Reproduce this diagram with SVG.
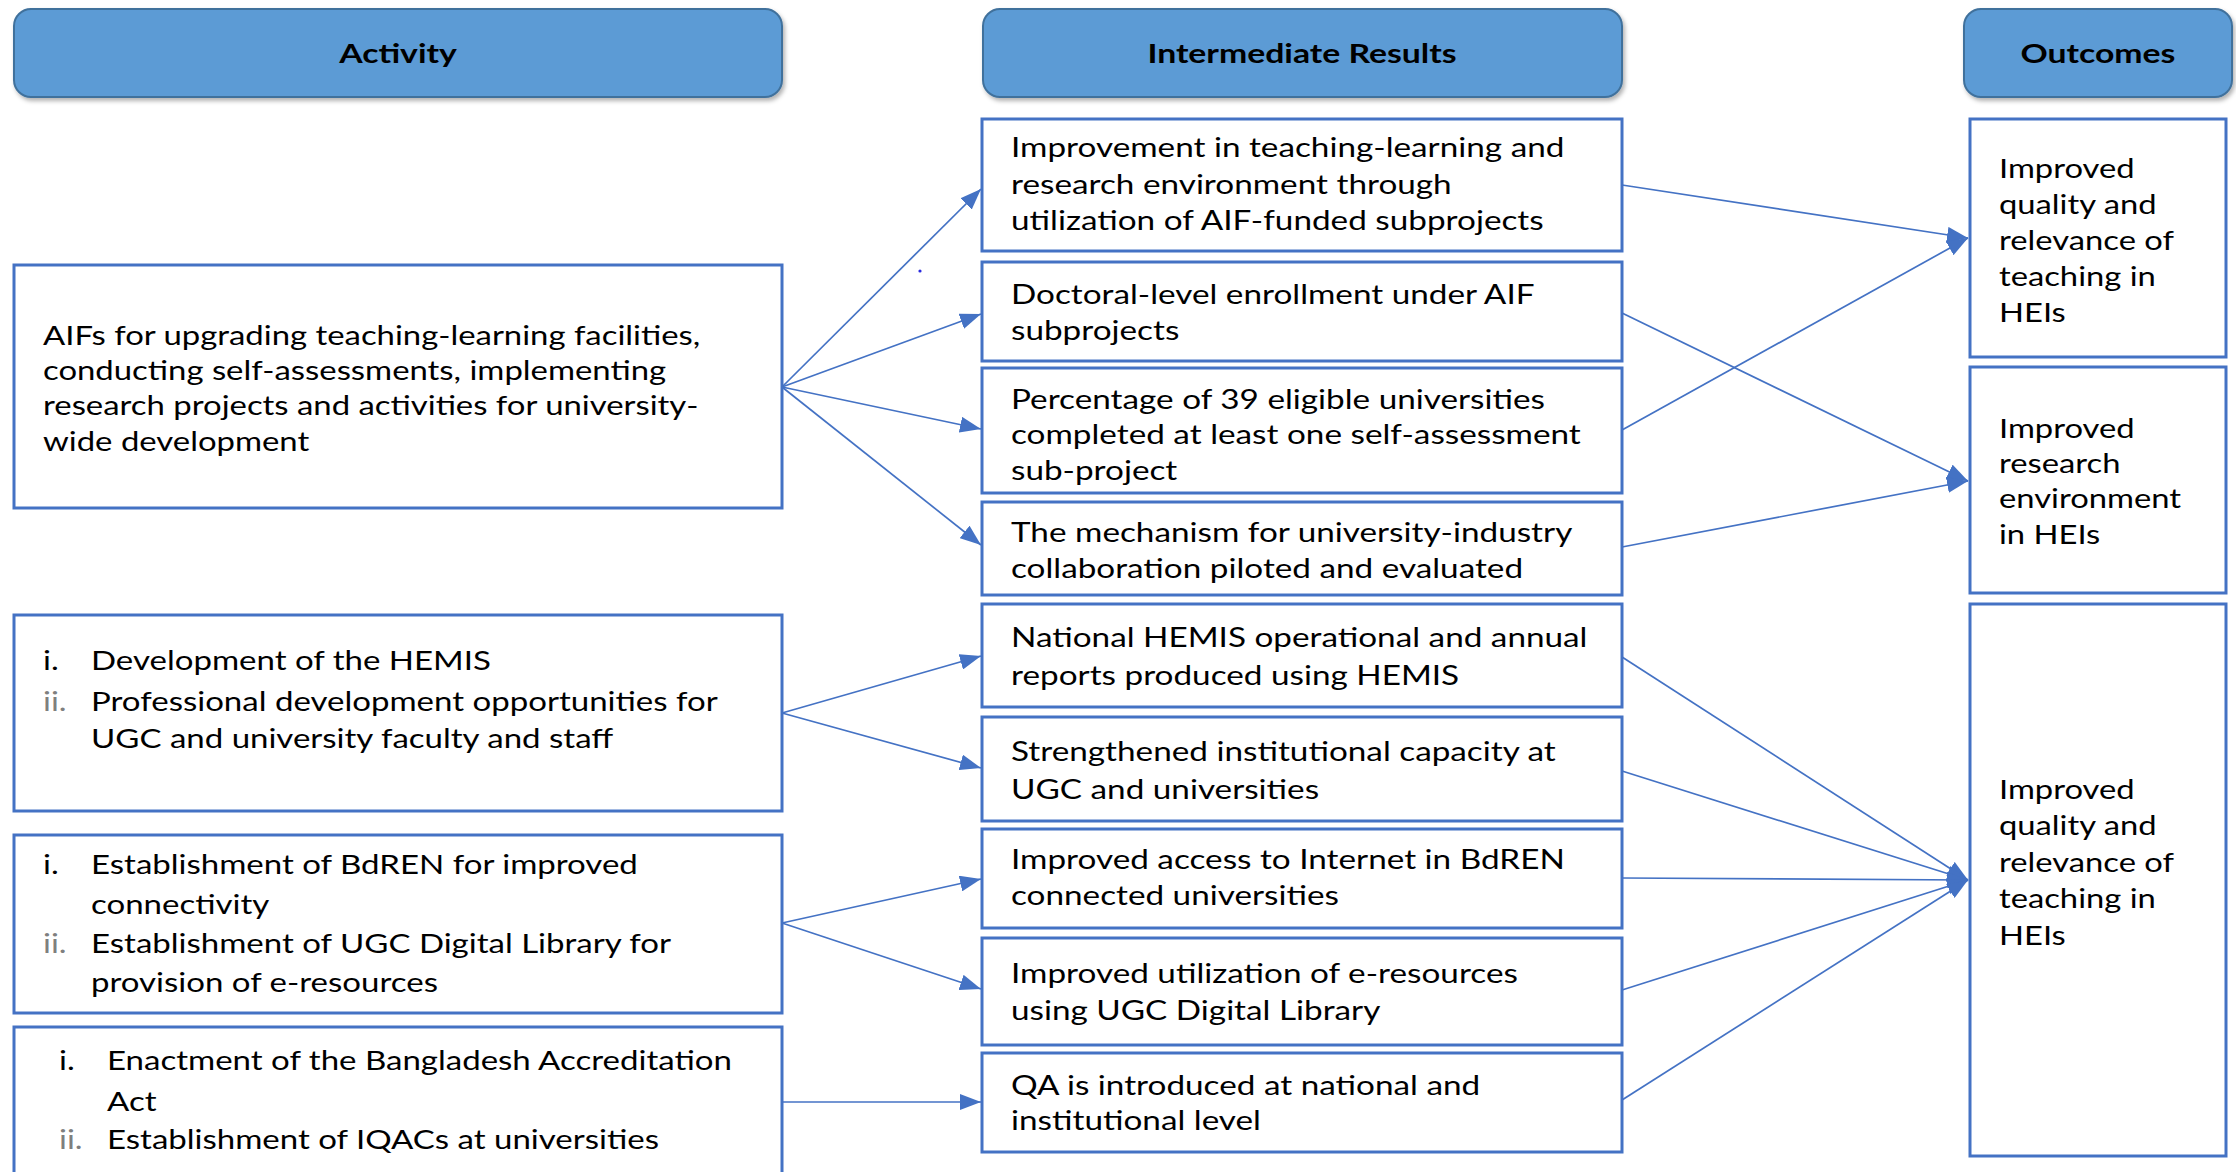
<svg xmlns="http://www.w3.org/2000/svg" width="2236" height="1172" viewBox="0 0 2236 1172">
<style>
  .hdr { fill: #5B9BD5; stroke: #41719C; stroke-width: 2; }
  .box { fill: #ffffff; stroke: #4472C4; stroke-width: 3; }
  .ht { font-family: Lato, "Liberation Sans", sans-serif; font-weight: 700; font-size: 27px; fill: #000; text-anchor: middle; }
  .t { font-family: Lato, "Liberation Sans", sans-serif; font-size: 26px; fill: #000; }
  .g { fill: #7f7f7f; }
  .c { stroke: #4472C4; stroke-width: 1.7; fill: none; marker-end: url(#ah); }
</style>
<defs>
  <marker id="ah" markerUnits="userSpaceOnUse" markerWidth="21" markerHeight="16" refX="21" refY="8" orient="auto">
    <path d="M0,0 L21,8 L0,16 z" fill="#4472C4"/>
  </marker>
  <filter id="sh" x="-5%" y="-20%" width="110%" height="150%">
    <feDropShadow dx="2" dy="3" stdDeviation="2" flood-color="#000" flood-opacity="0.3"/>
  </filter>
</defs>
<rect width="2236" height="1172" fill="#ffffff"/>

<g id="header-activity">
  <rect class="hdr" x="14" y="9" width="768" height="88" rx="17" filter="url(#sh)"/>
  <text class="ht" transform="translate(398 0) scale(1.25 1)" x="0" y="63">Activity</text>
</g>
<g id="header-intermediate">
  <rect class="hdr" x="983" y="9" width="639" height="88" rx="17" filter="url(#sh)"/>
  <text class="ht" transform="translate(1302 0) scale(1.25 1)" x="0" y="63">Intermediate Results</text>
</g>
<g id="header-outcomes">
  <rect class="hdr" x="1964" y="9" width="268" height="88" rx="17" filter="url(#sh)"/>
  <text class="ht" transform="translate(2098 0) scale(1.25 1)" x="0" y="63">Outcomes</text>
</g>

<g id="activity-1">
  <rect class="box" x="14" y="265" width="768" height="243"/>
  <text class="t" transform="translate(43 0) scale(1.265 1)">
    <tspan x="0" y="345">AIFs for upgrading teaching-learning facilities,</tspan>
    <tspan x="0" y="380">conducting self-assessments, implementing</tspan>
    <tspan x="0" y="415">research projects and activities for university-</tspan>
    <tspan x="0" y="451">wide development</tspan>
  </text>
</g>
<g id="activity-2">
  <rect class="box" x="14" y="615" width="768" height="196"/>
  <text class="t" transform="translate(43 0) scale(1.27 1)">
    <tspan x="0" y="670">i.</tspan>
    <tspan class="g" x="0" y="711">ii.</tspan>
  </text>
  <text class="t" transform="translate(91 0) scale(1.27 1)">
    <tspan x="0" y="670">Development of the HEMIS</tspan>
    <tspan x="0" y="711">Professional development opportunities for</tspan>
    <tspan x="0" y="748">UGC and university faculty and staff</tspan>
  </text>
</g>
<g id="activity-3">
  <rect class="box" x="14" y="835" width="768" height="178"/>
  <text class="t" transform="translate(43 0) scale(1.27 1)">
    <tspan x="0" y="874">i.</tspan>
    <tspan class="g" x="0" y="953">ii.</tspan>
  </text>
  <text class="t" transform="translate(91 0) scale(1.27 1)">
    <tspan x="0" y="874">Establishment of BdREN for improved</tspan>
    <tspan x="0" y="914">connectivity</tspan>
    <tspan x="0" y="953">Establishment of UGC Digital Library for</tspan>
    <tspan x="0" y="992">provision of e-resources</tspan>
  </text>
</g>
<g id="activity-4">
  <rect class="box" x="14" y="1027" width="768" height="170"/>
  <text class="t" transform="translate(59 0) scale(1.27 1)">
    <tspan x="0" y="1070">i.</tspan>
    <tspan class="g" x="0" y="1149">ii.</tspan>
  </text>
  <text class="t" transform="translate(107 0) scale(1.27 1)">
    <tspan x="0" y="1070">Enactment of the Bangladesh Accreditation</tspan>
    <tspan x="0" y="1111">Act</tspan>
    <tspan x="0" y="1149">Establishment of IQACs at universities</tspan>
  </text>
</g>

<g id="result-1">
  <rect class="box" x="982" y="119" width="640" height="132"/>
  <text class="t" transform="translate(1011 0) scale(1.28 1)">
    <tspan x="0" y="157">Improvement in teaching-learning and</tspan>
    <tspan x="0" y="194">research environment through</tspan>
    <tspan x="0" y="230">utilization of AIF-funded subprojects</tspan>
  </text>
</g>
<g id="result-2">
  <rect class="box" x="982" y="262" width="640" height="99"/>
  <text class="t" transform="translate(1011 0) scale(1.28 1)">
    <tspan x="0" y="304">Doctoral-level enrollment under AIF</tspan>
    <tspan x="0" y="340">subprojects</tspan>
  </text>
</g>
<g id="result-3">
  <rect class="box" x="982" y="368" width="640" height="125"/>
  <text class="t" transform="translate(1011 0) scale(1.28 1)">
    <tspan x="0" y="409">Percentage of 39 eligible universities</tspan>
    <tspan x="0" y="444">completed at least one self-assessment</tspan>
    <tspan x="0" y="480">sub-project</tspan>
  </text>
</g>
<g id="result-4">
  <rect class="box" x="982" y="502" width="640" height="93"/>
  <text class="t" transform="translate(1011 0) scale(1.28 1)">
    <tspan x="0" y="542">The mechanism for university-industry</tspan>
    <tspan x="0" y="578">collaboration piloted and evaluated</tspan>
  </text>
</g>
<g id="result-5">
  <rect class="box" x="982" y="604" width="640" height="103"/>
  <text class="t" transform="translate(1011 0) scale(1.28 1)">
    <tspan x="0" y="647">National HEMIS operational and annual</tspan>
    <tspan x="0" y="685">reports produced using HEMIS</tspan>
  </text>
</g>
<g id="result-6">
  <rect class="box" x="982" y="717" width="640" height="104"/>
  <text class="t" transform="translate(1011 0) scale(1.28 1)">
    <tspan x="0" y="761">Strengthened institutional capacity at</tspan>
    <tspan x="0" y="799">UGC and universities</tspan>
  </text>
</g>
<g id="result-7">
  <rect class="box" x="982" y="829" width="640" height="99"/>
  <text class="t" transform="translate(1011 0) scale(1.28 1)">
    <tspan x="0" y="869">Improved access to Internet in BdREN</tspan>
    <tspan x="0" y="905">connected universities</tspan>
  </text>
</g>
<g id="result-8">
  <rect class="box" x="982" y="938" width="640" height="107"/>
  <text class="t" transform="translate(1011 0) scale(1.28 1)">
    <tspan x="0" y="983">Improved utilization of e-resources</tspan>
    <tspan x="0" y="1020">using UGC Digital Library</tspan>
  </text>
</g>
<g id="result-9">
  <rect class="box" x="982" y="1053" width="640" height="99"/>
  <text class="t" transform="translate(1011 0) scale(1.28 1)">
    <tspan x="0" y="1095">QA is introduced at national and</tspan>
    <tspan x="0" y="1130">institutional level</tspan>
  </text>
</g>

<g id="outcome-1">
  <rect class="box" x="1970" y="119" width="256" height="238"/>
  <text class="t" transform="translate(1999 0) scale(1.26 1)">
    <tspan x="0" y="178">Improved</tspan>
    <tspan x="0" y="214">quality and</tspan>
    <tspan x="0" y="250">relevance of</tspan>
    <tspan x="0" y="286">teaching in</tspan>
    <tspan x="0" y="322">HEIs</tspan>
  </text>
</g>
<g id="outcome-2">
  <rect class="box" x="1970" y="367" width="256" height="226"/>
  <text class="t" transform="translate(1999 0) scale(1.26 1)">
    <tspan x="0" y="438">Improved</tspan>
    <tspan x="0" y="473">research</tspan>
    <tspan x="0" y="508">environment</tspan>
    <tspan x="0" y="544">in HEIs</tspan>
  </text>
</g>
<g id="outcome-3">
  <rect class="box" x="1970" y="604" width="256" height="552"/>
  <text class="t" transform="translate(1999 0) scale(1.26 1)">
    <tspan x="0" y="799">Improved</tspan>
    <tspan x="0" y="835">quality and</tspan>
    <tspan x="0" y="872">relevance of</tspan>
    <tspan x="0" y="908">teaching in</tspan>
    <tspan x="0" y="945">HEIs</tspan>
  </text>
</g>

<circle cx="920" cy="271" r="1.6" fill="#2a2ae0"/>

<g id="connectors">
  <line class="c" x1="782" y1="387" x2="981" y2="189"/>
  <line class="c" x1="782" y1="387" x2="981" y2="314"/>
  <line class="c" x1="782" y1="387" x2="981" y2="429"/>
  <line class="c" x1="782" y1="387" x2="981" y2="545"/>
  <line class="c" x1="782" y1="713" x2="981" y2="656"/>
  <line class="c" x1="782" y1="713" x2="981" y2="768"/>
  <line class="c" x1="782" y1="923" x2="981" y2="879"/>
  <line class="c" x1="782" y1="923" x2="981" y2="989"/>
  <line class="c" x1="782" y1="1102" x2="981" y2="1102"/>
  <line class="c" x1="1622" y1="185" x2="1968" y2="238"/>
  <line class="c" x1="1622" y1="313" x2="1968" y2="481"/>
  <line class="c" x1="1622" y1="430" x2="1968" y2="238"/>
  <line class="c" x1="1622" y1="547" x2="1968" y2="481"/>
  <line class="c" x1="1622" y1="657" x2="1968" y2="880"/>
  <line class="c" x1="1622" y1="771" x2="1968" y2="880"/>
  <line class="c" x1="1622" y1="878" x2="1968" y2="880"/>
  <line class="c" x1="1622" y1="990" x2="1968" y2="880"/>
  <line class="c" x1="1622" y1="1100" x2="1968" y2="880"/>
</g>
</svg>
